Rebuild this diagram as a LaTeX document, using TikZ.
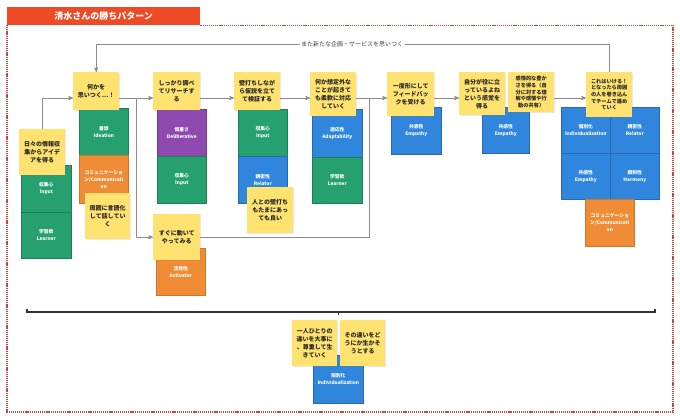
\documentclass[tikz,border=0pt]{standalone}
\usepackage{fontspec}
\setmainfont{Noto Sans CJK JP}
\usetikzlibrary{arrows,shadows,positioning}

\definecolor{memoY}{HTML}{FFE270}
\definecolor{strGreen}{HTML}{26A06E}
\definecolor{strOrange}{HTML}{F08C35}
\definecolor{strBlue}{HTML}{2F86DC}
\definecolor{strPurple}{HTML}{8E4AAE}
\definecolor{titleRed}{HTML}{EE4A25}
\definecolor{frameRed}{HTML}{C8463A}
\definecolor{lineGray}{HTML}{8C8C8C}

\begin{document}
\begin{tikzpicture}[x=1pt,y=-1pt,>=stealth',
                    flow/.style={->,draw=lineGray,line width=0.7pt}]
  \tikzstyle{memo}=[fill=memoY,anchor=north west,align=center,inner sep=1pt,
                    minimum width=46pt,minimum height=46pt,text=black!85,
                    font=\bfseries\fontsize{6}{8}\selectfont,
                    drop shadow={shadow xshift=0.6pt,shadow yshift=-0.8pt,opacity=0.18}]
  \tikzstyle{small memo}=[memo,font=\bfseries\fontsize{5.2}{6.6}\selectfont]
  \tikzstyle{talent}=[anchor=north west,align=center,inner sep=1pt,text=white,
                    minimum width=49pt,minimum height=47pt,line width=0.6pt,
                    font=\bfseries\fontsize{4.8}{7}\selectfont]

  \useasboundingbox (0,0) rectangle (680,418);

  % title and frame
  \node[fill=titleRed,text=white,anchor=north west,minimum width=193pt,minimum height=18pt,
        font=\bfseries\fontsize{9}{10}\selectfont] (title) at (7,7) {清水さんの勝ちパターン};
  \coordinate (corner) at (673,412);
  \draw[frameRed,line width=1.3pt,dash pattern=on 1.2pt off 0.9pt] (title.south east) -| (corner) -| (title.south west);

  % strengths
  \node[talent,fill=strGreen,draw=strGreen!80!black,minimum width=50pt] (g1) at (21,165) {収集心\\Input};
  \node[talent,fill=strGreen,draw=strGreen!80!black,minimum width=50pt,minimum height=46pt] (g2) at (21,212) {学習欲\\Learner};
  \node[talent,fill=strGreen,draw=strGreen!80!black] (i2) at (79,108) {着想\\Ideation};
  \node[talent,fill=strOrange,draw=strOrange!85!black,minimum height=48pt] (c2) at (79,155) {コミュニケーショ\\ン/Communicati\\on};
  \node[talent,fill=strPurple,draw=strPurple!80!black] (d3) at (157,109) {慎重さ\\Deliberative};
  \node[talent,fill=strGreen,draw=strGreen!80!black] (i3) at (157,156) {収集心\\Input};
  \node[talent,fill=strOrange,draw=strOrange!85!black] (a3) at (156,248) {活発性\\Activator};
  \node[talent,fill=strGreen,draw=strGreen!80!black] (i4) at (238,109) {収集心\\Input};
  \node[talent,fill=strBlue,draw=strBlue!80!black] (r4) at (238,156) {親密性\\Relator};
  \node[talent,fill=strBlue,draw=strBlue!80!black,minimum width=50pt,minimum height=48pt] (ad5) at (312,109) {適応性\\Adaptability};
  \node[talent,fill=strGreen,draw=strGreen!80!black,minimum width=50pt,minimum height=46pt] (l5) at (312,157) {学習欲\\Learner};
  \node[talent,fill=strBlue,draw=strBlue!80!black,minimum width=50pt] (e6) at (391,107) {共感性\\Empathy};
  \node[talent,fill=strBlue,draw=strBlue!80!black,minimum width=47pt,minimum height=46pt] (e7) at (482,107) {共感性\\Empathy};
  \node[talent,fill=strBlue,draw=strBlue!80!black,minimum height=46pt] (ind9) at (561,107) {個別化\\Individualization};
  \node[talent,fill=strBlue,draw=strBlue!80!black,minimum height=46pt] (rel9) at (610,107) {親密性\\Relator};
  \node[talent,fill=strBlue,draw=strBlue!80!black,minimum height=46pt] (emp9) at (561,153) {共感性\\Empathy};
  \node[talent,fill=strBlue,draw=strBlue!80!black,minimum height=46pt] (har9) at (610,153) {調和性\\Harmony};
  \node[talent,fill=strOrange,draw=strOrange!85!black] (com9) at (585,199) {コミュニケーショ\\ン/Communicati\\on};
  \node[talent,fill=strBlue,draw=strBlue!80!black,minimum width=50pt,minimum height=48pt] (ind0) at (313,355) {個別化\\Individualization};

  % stickies
  \node[memo] (s1) at (19,129) {日々の情報収\\集からアイデ\\アを得る};
  \node[memo,minimum height=38pt] (s2) at (73,72) {何かを\\思いつく…！};
  \node[memo,minimum width=47pt,minimum height=38pt] (s3) at (153,72) {しっかり調べ\\てリサーチす\\る};
  \node[memo,minimum height=38pt] (s4) at (234,72) {壁打ちしなが\\ら仮説を立て\\て検証する};
  \node[memo,minimum height=44pt] (s5) at (310,72) {何か想定外な\\ことが起きて\\も柔軟に対応\\していく};
  \node[memo,minimum width=47pt,minimum height=44pt] (s6) at (387,72) {一度形にして\\フィードバッ\\クを受ける};
  \node[memo,minimum height=43pt] (s7) at (459,72) {自分が役に立\\っているよね\\という感覚を\\得る};
  \node[small memo,minimum height=40pt] (s8) at (508,72) {感情的な豊か\\さを得る（自\\分に対する理\\解や感情や行\\動の共有）};
  \node[small memo,minimum height=45pt] (s9) at (586,72) {これはいける！\\となったら周囲\\の人を巻き込ん\\でチームで進め\\ていく};
  \node[memo,minimum width=45pt] (s2b) at (85,193) {周囲に言語化\\して話してい\\く};
  \node[memo,minimum width=47pt] (s3b) at (153,214) {すぐに動いて\\やってみる};
  \node[memo] (s4b) at (247,187) {人との壁打ち\\もたまにあっ\\ても良い};
  \node[memo,minimum width=45pt] (b1) at (292,320) {一人ひとりの\\違いを大事に\\、尊重して生\\きていく};
  \node[memo,minimum width=45pt] (b2) at (340,320) {その違いをど\\うにか生かそ\\うとする};

  % flow
  \coordinate (flow) at (0,98);
  \coordinate (split) at (136,98);
  \coordinate (merge) at (369,98);
  \coordinate (top) at (0,44);
  \draw[flow] (s1.north) |- (s2.west |- flow);
  \draw[flow] (s2.east |- flow) -- (s3.west |- flow);
  \draw[flow] (split) |- (s3b.west);
  \draw[flow] (s3.east |- flow) -- (s4.west |- flow);
  \draw[flow] (s4.east |- flow) -- (s5.west |- flow);
  \draw[flow] (s5.east |- flow) -- (s6.west |- flow);
  \draw[flow,-] (s3b.east) -| (merge);
  \draw[flow] (s6.east |- flow) -- (s7.west |- flow);
  \draw[flow] (s8.east |- flow) -- (s9.west |- flow);
  \draw[flow] (s9.north) |- (s2.north |- top) -- (s2.north);
  \node[fill=white,inner sep=1.5pt,text=black!75,font=\fontsize{6}{7}\selectfont] (again) at (352,44) {また新たな企画・サービスを思いつく};

  % bottom bracket
  \draw[black!80,line width=1.2pt] (27,309) |- (655,312) -- (655,309);
  \draw[black!80,line width=0.8pt] (338,312) -- (338,315);
\end{tikzpicture}
\end{document}
